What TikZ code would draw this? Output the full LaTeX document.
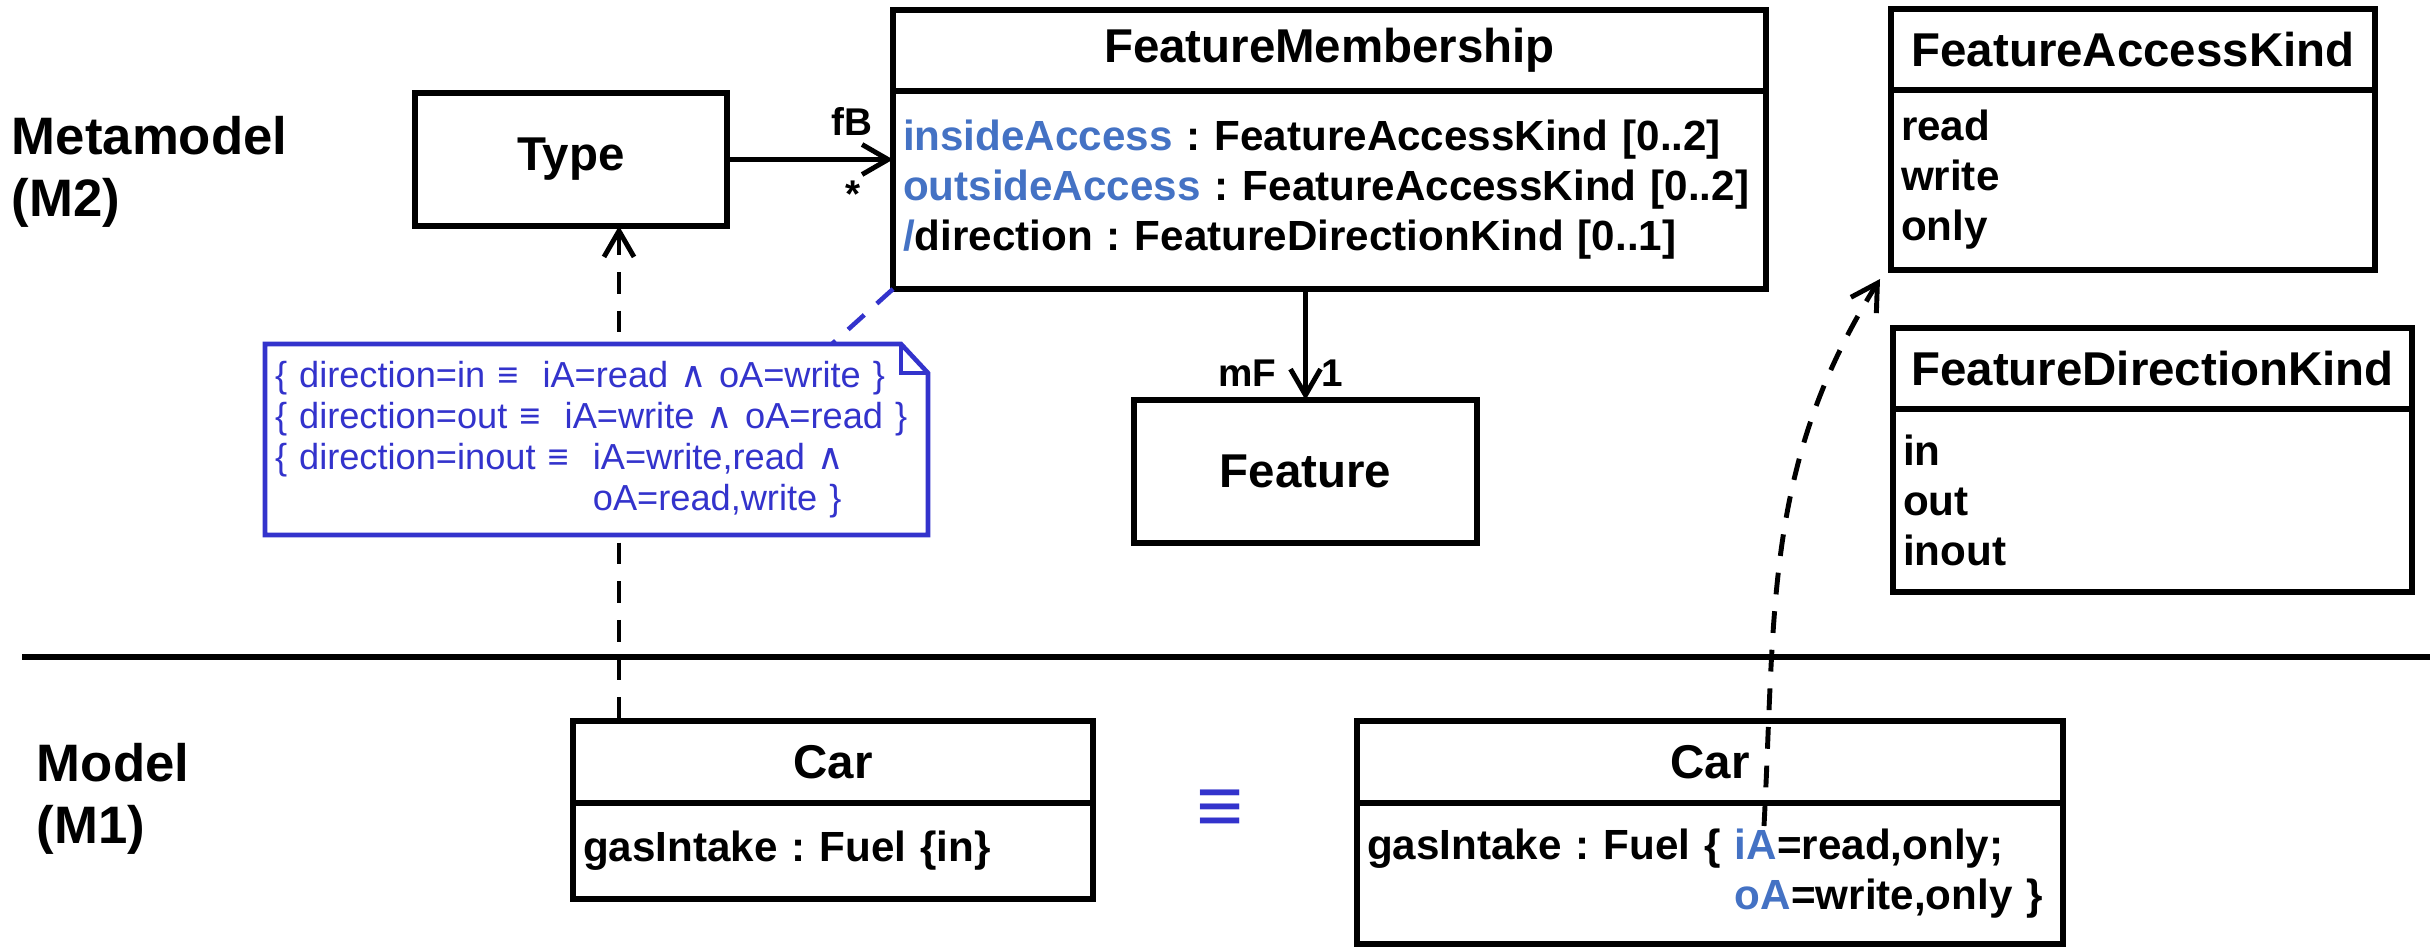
\documentclass[tikz,border=0pt]{standalone}
\usepackage{fontspec}
\setmainfont{Liberation Sans}
\newfontfamily\symf{DejaVu Sans}
\usetikzlibrary{arrows.meta,positioning}
\definecolor{acc}{HTML}{4472C4}
\definecolor{nblue}{HTML}{3333CC}

\begin{document}
\frenchspacing
\begin{tikzpicture}
\tikzset{ >={Straight Barb[length=2.6mm,width=3mm]}, inner sep=0pt, outer sep=0pt,
  box/.style={draw, line width=1.6pt, font=\fontsize{13.5}{16}\selectfont\bfseries},
  head/.style={box, minimum height=0.81cm, anchor=north west},
  body/.style={draw, line width=1.6pt, font=\fontsize{12}{14.2}\selectfont\bfseries, align=left, inner xsep=0.1cm},
  lvl/.style={font=\fontsize{15}{17.6}\selectfont\bfseries, align=left, anchor=west},
  lbl/.style={font=\fontsize{11}{13}\selectfont\bfseries},
  ln/.style={line width=1.4pt},
  dep/.style={line width=1.4pt, dash pattern=on 6.2pt off 4.8pt},
  nline/.style={nblue, line width=1.3pt},
}
\useasboundingbox (0,0) rectangle (24.33,9.46);
%\draw [lightgray, dashed](0,0) grid (24,9);

\node [lvl] (M2) at (0.12,7.745) {Metamodel\\(M2)};
\node [lvl] (M1) at (0.37,1.475) {Model\\(M1)};

\node [box, minimum width=3.12cm, minimum height=1.33cm] (T) at (5.71,7.865) {Type};
\node [box, minimum width=3.43cm, minimum height=1.43cm] (F) at (13.055,4.745) {Feature};

\node [head, minimum width=8.73cm] (FM) at (8.93,9.36) {FeatureMembership};
\node [body, below=0pt of FM, text width=8.53cm, minimum height=1.98cm] (FMa)
  {\textcolor{acc}{insideAccess} : FeatureAccessKind [0..2]\\
   \textcolor{acc}{outsideAccess} : FeatureAccessKind [0..2]\\
   \textcolor{acc}{/}direction : FeatureDirectionKind [0..1]};

\node [head, minimum width=4.84cm] (FAK) at (18.91,9.37) {FeatureAccessKind};
\node [body, below=0pt of FAK, text width=4.64cm, minimum height=1.80cm] (FAKa) {read\\write\\only};

\node [head, minimum width=5.19cm] (FDK) at (18.93,6.18) {FeatureDirectionKind};
\node [body, below=0pt of FDK, text width=4.99cm, minimum height=1.83cm] (FDKa) {in\\out\\inout};

\node [head, minimum width=5.20cm, minimum height=0.82cm] (C1) at (5.73,2.25) {Car};
\node [body, below=0pt of C1, text width=5.00cm, minimum height=0.96cm] (C1a) {gasIntake : Fuel \{in\}};

\node [head, minimum width=7.06cm, minimum height=0.82cm] (C2) at (13.57,2.25) {Car};
\node [body, below=0pt of C2, text width=6.86cm, minimum height=1.41cm] (C2a)
  {gasIntake : Fuel \{ \textcolor{acc}{iA}=read,only;\\
   \hphantom{gasIntake : Fuel \{ }\textcolor{acc}{oA}=write,only \}};

\node [font=\fontsize{23}{23}\selectfont\bfseries, text=nblue] (EQ) at (12.20,1.34) {≡};

\draw [line width=1.6pt] (0.22,2.89) -- (24.30,2.89);

% associations
\draw [->, ln] (T.east) -- (T.east -| FMa.west);
\node [lbl] (fB) at (8.52,8.25) {fB};
\node [lbl] (st) at (8.53,7.52) {*};
\draw [->, ln] (F.north |- FMa.south) -- (F.north);
\node [lbl] (mF) at (12.47,5.73) {mF};
\node [lbl] (one) at (13.32,5.73) {1};

% instance of
\draw [<-, dep] ([xshift=0.48cm]T.south) -- ([xshift=0.46cm]C1.north west);
\coordinate (iA) at (17.64,1.20);
\draw [->, dep] (iA) to[out=87, in=238] ([xshift=-0.11cm,yshift=-0.09cm]FAKa.south west);

% constraint note
\node [fill=white, minimum width=6.63cm, minimum height=1.91cm, text width=6.43cm, align=left,
       anchor=north west, text=nblue, font=\fontsize{10.3}{11.6}\selectfont] (N) at (2.65,6.02)
  {\{ direction=in ≡~ iA=read {\symf ∧} oA=write \}\\
   \{ direction=out ≡~ iA=write {\symf ∧} oA=read \}\\
   \{ direction=inout ≡~ iA=write,read {\symf ∧}\\
   \hphantom{\{ direction=inout ≡~ }oA=read,write \}};
\draw [nline] (N.north west) -- ([xshift=-0.27cm]N.north east) -- ([yshift=-0.29cm]N.north east)
  -- (N.south east) -- (N.south west) -- cycle;
\draw [nline] ([xshift=-0.27cm]N.north east) |- ([yshift=-0.29cm]N.north east);
\draw [nline, dash pattern=on 6.2pt off 4.8pt] (FMa.south west) -- ([xshift=-0.96cm]N.north east);

\end{tikzpicture}
\end{document}
